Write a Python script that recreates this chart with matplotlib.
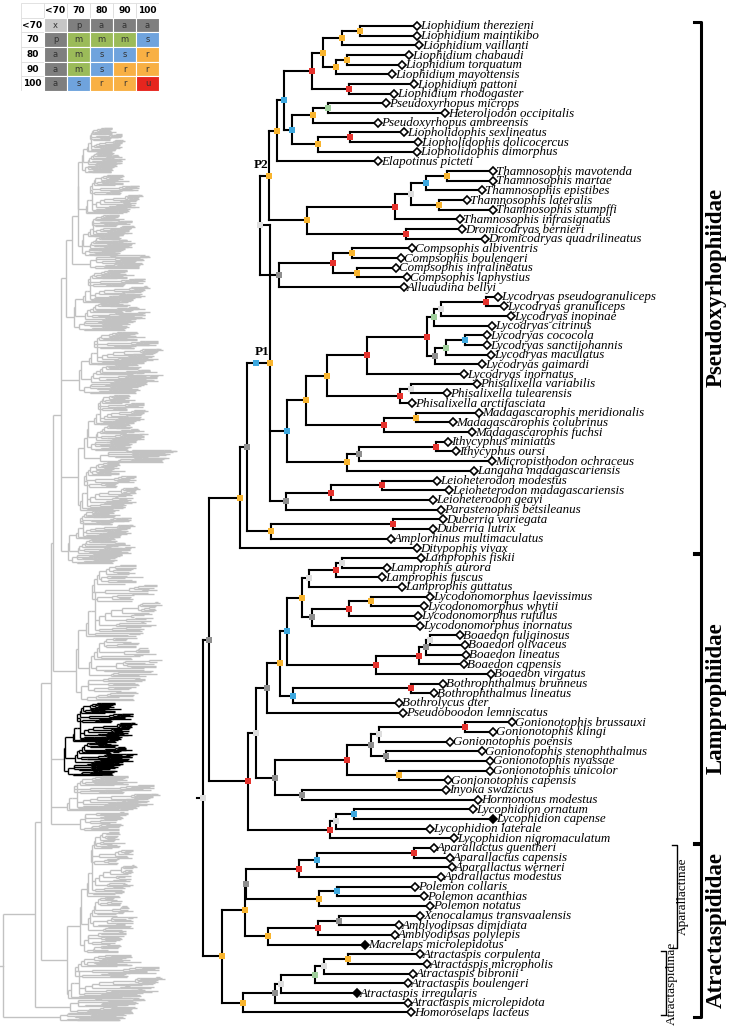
import matplotlib
matplotlib.use("Agg")
import matplotlib.pyplot as plt
from matplotlib.collections import LineCollection
from matplotlib.patches import Rectangle

# ---------------- data ----------------
# newick-like strings; the number after ':' is the node depth measured from the root
pseudo = """
(
 (
  (
   (
    (
     (
      (
       (
        ((Liophidium_therezieni:214,Liophidium_maintikibo:214)r:157,Liophidium_vaillanti:216)r:139,
        ((Liophidium_chabaudi:206,Liophidium_torquatum:199)r:144,Liophidium_mayottensis:189)r:133
       )r:120,
       (Liophidium_pattoni:211,Liophidium_rhodogaster:191)u:146
      )u:109,
      (
       ((Pseudoxyrhopus_microps:183,Heteroliodon_occipitalis:242)m:125,Pseudoxyrhopus_ambreensis:175)r:110,
       ((Liopholidophis_sexlineatus:201,Liopholidophis_dolicocercus:215)u:147,Liopholidophis_dimorphus:214)r:115
      )s:89
     )s:81,
     Elapotinus_picteti:175
    )r:74,
    (
     (
      (
       ((Thamnosophis_mavotenda:290,Thamnosophis_martae:290)r:244,Thamnosophis_epistibes:279)s:223,
       (Thamnosophis_lateralis:264,Thamnosophis_stumpffi:290)r:236
      )x:208,
      Thamnosophis_infrasignatus:257
     )u:192,
     (Dromicodryas_bernieri:259,Dromicodryas_quadrilineatus:282)u:203
    )r:104
   )r-P2:66,
   (
    (
     (Compsophis_albiventris:209,Compsophis_boulengeri:198)r:149,
     (Compsophis_infralineatus:193,Compsophis_laphystius:204)r:154
    )u:130,
    Alluaudina_bellyi:201
   )a:76
  )x:57,
  (
   (
    (
     (
      (
       (
        ((Lycodryas_pseudogranuliceps:295,Lycodryas_granuliceps:301)u:283,Lycodryas_inopinae:308)x:238,
        Lycodryas_citrinus:289
       )m:231,
       (
        ((Lycodryas_cococola:284,Lycodryas_sanctijohannis:284)s:262,Lycodryas_maculatus:288)m:243,
        Lycodryas_gaimardi:279
       )a:232
      )u:224,
      Lycodryas_inornatus:261
     )u:164,
     ((Phisalixella_variabilis:274,Phisalixella_tulearensis:244)x:208,Phisalixella_arctifasciata:209)u:197
    )r:124,
    ((Madagascarophis_meridionalis:276,Madagascarophis_colubrinus:250)r:213,Madagascarophis_fuchsi:269)u:181
   )r:103,
   (
    ((Ithycyphus_miniatus:245,Ithycyphus_oursi:253)u:233,Micropisthodon_ochraceus:289)a:156,
    Langaha_madagascariensis:271
   )r:144
  )s:84,
  (
   ((Leioheterodon_modestus:234,Leioheterodon_madagascariensis:246)u:179,Leioheterodon_geayi:230)u:128,
   Parastenophis_betsileanus:238
  )a:83
 )r-P1:67
)s:53
"""

pseudo_fam = "((" + pseudo + ",((Duberria_variegata:240,Duberria_lutrix:230)u:190,Amplorhinus_multimaculatus:188)r:68)a:44,Ditypophis_vivax:214)r:37"

lampro_fam = """
(
 (
  (
   (
    (
     (
      (
       ((Lamprophis_fiskii:218,Lamprophis_aurora:184)x:139,Lamprophis_fuscus:179)u:133,
       Lamprophis_guttatus:199
      )x:106,
      (
       ((Lycodonomorphus_laevissimus:227,Lycodonomorphus_whytii:221)r:168,Lycodonomorphus_rufulus:215)u:146,
       Lycodonomorphus_inornatus:217
      )a:109
     )r:99,
     (
      (((Boaedon_fuliginosus:257,Boaedon_olivaceus:262)x:227,Boaedon_lineatus:263)a:223,Boaedon_capensis:261)u:216,
      Boaedon_virgatus:288
     )u:173
    )s:84,
    ((Bothrophthalmus_brunneus:240,Bothrophthalmus_lineatus:231)u:208,Bothrolycus_ater:196)s:90
   )r:77,
   Pseudoboodon_lemniscatus:200
  )a:64,
  (
   (
    (
     ((Gonionotophis_brussauxi:309,Gonionotophis_klingi:290)u:262,Gonionotophis_poensis:247)x:176,
     (Gonionotophis_stenophthalmus:279,Gonionotophis_nyassae:287)a:183
    )a:168,
    (Gonionotophis_unicolor:287,Gonionotophis_capensis:245)r:196
   )u:144,
   (Inyoka_swazicus:243,Hormonotus_modestus:275)a:99
  )a:72
 )x:53,
 (
  ((Lycophidion_ornatum:270,Lycophidion_capense*:290)s:151,Lycophidion_laterale:227)x:133,
  Lycophidion_nigromaculatum:251
 )u:127
)u:45
"""

atract_fam = """
(
 (
  (
   (((Aparallactus_guentheri:231,Aparallactus_capensis:247)u:211,Aparallactus_werneri:249)s:114,Aparallactus_modestus:238)u:96,
   ((Polemon_collaris:212,Polemon_acanthias:221)s:134,Polemon_notatus:227)r:116
  )a:43,
  (((Xenocalamus_transvaalensis:217,Amblyodipsas_dimidiata:196)a:136,Amblyodipsas_polylepis:192)u:115,Macrelaps_microlepidotus*:162)r:65
 )r:42,
 (
  (
   (
    (((Atractaspis_corpulenta:217,Atractaspis_micropholis:224)r:145,Atractaspis_bibronii:210)x:121,Atractaspis_boulengeri:205)m:112,
    Atractaspis_irregularis*:154
   )x:78,
   Atractaspis_microlepidota:205
  )a:72,
  Homoroselaps_lacteus:208
 )r:40
)r:19
"""

main_tree = "((" + pseudo_fam + "," + lampro_fam + ")a:6," + atract_fam + ")x:0"

families = ["Pseudoxyrhophiidae", "Lamprophiidae", "Atractaspididae"]
family_first = ["Liophidium_therezieni", "Lamprophis_fiskii", "Aparallactus_guentheri"]
family_last = ["Ditypophis_vivax", "Lycophidion_nigromaculatum", "Homoroselaps_lacteus"]
subfamilies = ["Aparallactinae", "Atractaspidinae"]
subfamily_first = ["Aparallactus_guentheri", "Atractaspis_corpulenta"]
subfamily_last = ["Macrelaps_microlepidotus", "Homoroselaps_lacteus"]

# support table
tab_head = ["<70", "70", "80", "90", "100"]
tab_codes = [["x", "p", "a", "a", "a"],
             ["p", "m", "m", "m", "s"],
             ["a", "m", "s", "s", "r"],
             ["a", "m", "s", "r", "r"],
             ["a", "s", "r", "r", "u"]]

# overview tree of the whole phylogeny (grey); leaves are bushes, HL = highlighted clade
bush_names = ["B1", "B2", "B3", "B4", "B5", "B6", "B7", "B8", "B9", "B10",
              "B11", "HL", "B12", "B13", "B14", "B15", "B16", "B17"]
bush_top = [128, 175, 215, 255, 270, 332, 395, 450, 463, 510, 565, 703, 776, 812, 832, 955, 998, 1012]
bush_bot = [172, 213, 255, 268, 330, 393, 450, 462, 510, 563, 700, 775, 810, 830, 952, 998, 1012, 1020]
bush_tip = [125, 143, 135, 150, 150, 163, 148, 177, 140, 135, 162, 137, 160, 128, 137, 165, 145, 133]
bush_tmpl = [3, 0, 3, 2, 3, 3, 3, 2, 0, 3, 3, 4, 0, 2, 3, 0, 2, 2]
over_tree = ("((((((((((B1:82,B2:86):78,B3:82):78,B4:90):72,B5:74):66,B6:79,"
             "((B7:87,B8:100):84,B9:80):78,B10:68):61,B11:76):53,HL:64,B12:67,B13:80):51,"
             "(B14:80,B15:68):67):41,B16:70):35,B17:60):3")

# ---------------- helpers ----------------
def parse(s):
    s = "".join(s.split())
    pos = 0

    def read_label():
        nonlocal pos
        j = pos
        while pos < len(s) and s[pos] not in ",()":
            pos += 1
        lab, dep = s[j:pos].split(":")
        return lab, float(dep)

    def node():
        nonlocal pos
        if s[pos] == "(":
            pos += 1
            kids = [node()]
            while s[pos] == ",":
                pos += 1
                kids.append(node())
            pos += 1
            lab, dep = read_label()
            return {"kids": kids, "code": lab, "x": dep}
        lab, dep = read_label()
        return {"name": lab, "x": dep}

    return node()


def layout(nd, tips):
    if "kids" not in nd:
        nd["y"] = float(len(tips))
        tips.append(nd)
        return
    for k in nd["kids"]:
        layout(k, tips)
    nd["y"] = (nd["kids"][0]["y"] + nd["kids"][-1]["y"]) / 2


def walk(nd):
    yield nd
    for k in nd.get("kids", []):
        yield from walk(k)


def segments(nd, fx, fy):
    segs = []
    for n in walk(nd):
        if "kids" in n:
            segs.append([(fx(n["x"]), fy(n["kids"][0]["y"])), (fx(n["x"]), fy(n["kids"][-1]["y"]))])
            for k in n["kids"]:
                segs.append([(fx(n["x"]), fy(k["y"])), (fx(k["x"]), fy(k["y"]))])
    return segs


node_col = {"r": "#f8b42e", "u": "#e5322d", "s": "#3da8df", "m": "#9fce9b", "a": "#8e8e8e", "x": "#dddddd"}
tab_col = {"x": "#c6c6c6", "p": "#7f7f7f", "a": "#7f7f7f", "m": "#9bbb59", "s": "#6fa3dd", "r": "#f8b044", "u": "#e6251e"}

# ---------------- build ----------------
tree = parse(main_tree)
tips = []
layout(tree, tips)
tip_idx = {t["name"].rstrip("*"): t["y"] for t in tips}

fig = plt.figure(figsize=(7.33, 10.29), dpi=100)

# main tree: x = depth, y = tip index
ax = fig.add_axes([0, 0, 1, 1])
ax.set_xlim(-203, 530)
ax.set_ylim(103.72, -2.69)
ax.axis("off")

ax.add_collection(LineCollection(segments(tree, lambda v: v, lambda v: v), colors="black",
                                 linewidths=1.5, capstyle="projecting"))
ax.plot([tree["x"] - 6, tree["x"]], [tree["y"], tree["y"]], color="black", lw=1.5)

for n in walk(tree):
    if "kids" in n:
        code = n["code"].split("-")
        ax.plot(n["x"], n["y"], marker="s", ms=5, mew=0, color=node_col[code[0]], zorder=4)
        if len(code) > 1:
            ax.text(n["x"] - 1, n["y"] - 0.5, code[1], ha="right", va="bottom", fontsize=9.5,
                    fontweight="bold", family="Liberation Serif")
    else:
        filled = n["name"].endswith("*")
        ax.plot(n["x"], n["y"], marker="D", ms=4.4, mew=1.2, mec="black",
                mfc="black" if filled else "white", zorder=4)
        ax.text(n["x"] + 3, n["y"] + 0.05, n["name"].rstrip("*").replace("_", " "), ha="left", va="center",
                fontsize=9.4, style="italic", family="Liberation Serif")

# family brackets
for fam, a, b in zip(families, family_first, family_last):
    y0, y1 = tip_idx[a] - 0.45, tip_idx[b] + 0.45
    ax.plot([491, 498, 498, 491], [y0, y0, y1, y1], color="black", lw=2.2)
    ax.text(513, (y0 + y1) / 2, fam, rotation=90, ha="center", va="center", fontsize=16.5,
            fontweight="bold", family="Liberation Serif")
for sub, a, b, xb in zip(subfamilies, subfamily_first, subfamily_last, [474, 463]):
    y0, y1 = tip_idx[a] - 0.3, tip_idx[b] + 0.3
    ax.plot([xb - 5, xb, xb, xb - 5], [y0, y0, y1, y1], color="black", lw=1.0)
    ax.text(xb + 6, (y0 + y1) / 2, sub, rotation=90, ha="center", va="center", fontsize=9.5,
            family="Liberation Serif")

# overview tree (pixel units)
ov = fig.add_axes([0, 0, 200 / 733, 1])
ov.set_xlim(0, 200)
ov.set_ylim(1029, 0)
ov.axis("off")

templates = [parse("(" + pseudo_fam + ",Z:0):0")["kids"][0], parse(lampro_fam), parse(atract_fam),
             parse(main_tree), parse(main_tree)]
tmpl_n = []
for t in templates:
    tl = []
    layout(t, tl)
    tmpl_n.append(len(tl))


def place(nd):
    if "kids" not in nd:
        i = bush_names.index(nd["name"])
        k = bush_tmpl[i]
        nd["y"] = bush_top[i] + templates[k]["y"] / (tmpl_n[k] - 1) * (bush_bot[i] - bush_top[i])
        return
    for k in nd["kids"]:
        place(k)
    nd["y"] = (nd["kids"][0]["y"] + nd["kids"][-1]["y"]) / 2


otree = parse(over_tree)
place(otree)
grey = "#c2c2c2"
ov.add_collection(LineCollection(segments(otree, lambda v: v, lambda v: v), colors=grey, linewidths=1.0))
ov.plot([0, otree["x"]], [otree["y"], otree["y"]], color=grey, lw=1.0)
for n in walk(otree):
    if "kids" not in n:
        i = bush_names.index(n["name"])
        t = templates[bush_tmpl[i]]
        nt = tmpl_n[bush_tmpl[i]]
        tmax = max(m["x"] for m in walk(t))
        x0, x1 = n["x"], bush_tip[i]
        top, bot = bush_top[i], bush_bot[i]
        fx = lambda v, t=t, x0=x0, x1=x1, tmax=tmax: x0 + (v - t["x"]) / (tmax - t["x"]) * (x1 - x0)
        fy = lambda v, nt=nt, top=top, bot=bot: top + v / (nt - 1) * (bot - top)
        col = "black" if n["name"] == "HL" else grey
        ov.add_collection(LineCollection(segments(t, fx, fy), colors=col, linewidths=1.0))

# support table
tb = fig.add_axes([21 / 733, 1 - 91 / 1029, 138 / 733, 88 / 1029])
tb.set_xlim(0, 6)
tb.set_ylim(6, 0)
tb.axis("off")
for j, h in enumerate(tab_head):
    tb.add_patch(Rectangle((j + 1, 0), 1, 1, fc="white", ec="#dddddd", lw=0.6))
    tb.text(j + 1.5, 0.5, h, ha="center", va="center", fontsize=6.5, fontweight="bold")
    tb.add_patch(Rectangle((0, j + 1), 1, 1, fc="white", ec="#dddddd", lw=0.6))
    tb.text(0.5, j + 1.5, h, ha="center", va="center", fontsize=6.5, fontweight="bold")
tb.add_patch(Rectangle((0, 0), 1, 1, fc="white", ec="#dddddd", lw=0.6))
for r, row in enumerate(tab_codes):
    for c, code in enumerate(row):
        tb.add_patch(Rectangle((c + 1, r + 1), 1, 1, fc=tab_col[code], ec="white", lw=0.8))
        tb.text(c + 1.5, r + 1.5, code, ha="center", va="center", fontsize=6, color="#333333")

fig.savefig("out.png", dpi=100)
